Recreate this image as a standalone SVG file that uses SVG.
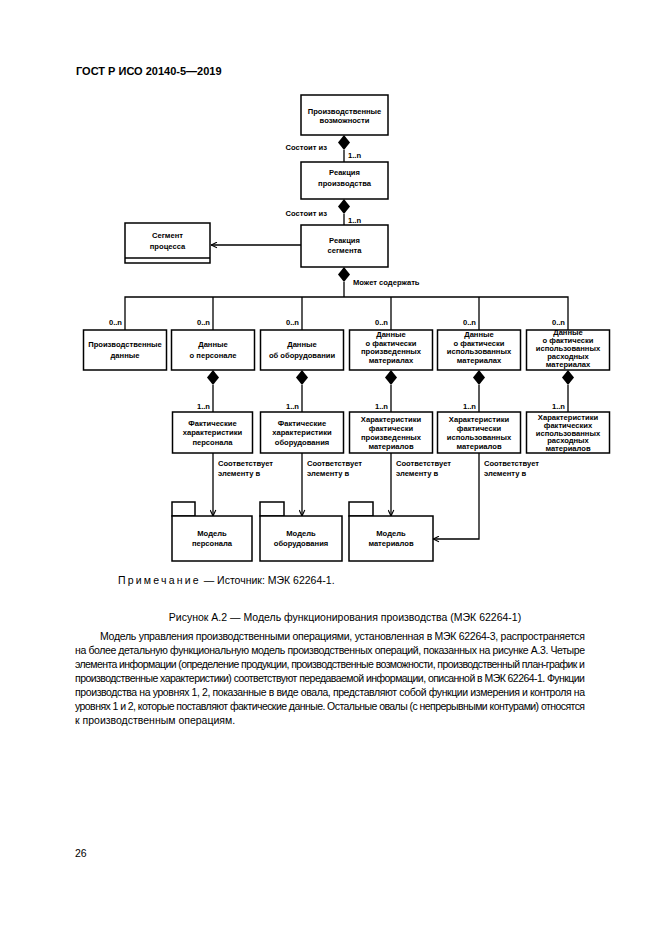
<svg xmlns="http://www.w3.org/2000/svg" width="661" height="935" viewBox="0 0 661 935">
<style>
.bx{fill:#fff;stroke:#000;stroke-width:1.5}
.ln{fill:none;stroke:#000;stroke-width:1.3}
.dm{fill:#000;stroke:none}
.t{font-family:"Liberation Sans",Arial,sans-serif;font-size:7.6px;font-weight:bold;fill:#000}
.c{text-anchor:middle}
.r{text-anchor:end}
.p{font-family:"Liberation Sans",Arial,sans-serif;font-size:10.5px;fill:#000}
</style>
<defs>
<marker id="op" viewBox="0 0 10 10" refX="9.5" refY="5" markerWidth="7" markerHeight="7" markerUnits="userSpaceOnUse" orient="auto">
<path d="M1,1 L9.5,5 L1,9" fill="none" stroke="#000" stroke-width="1.6"/>
</marker>
</defs>
<rect width="661" height="935" fill="#fff"/>
<text x="76" y="75" font-family="Liberation Sans,Arial,sans-serif" font-size="11" font-weight="bold">ГОСТ Р ИСО 20140-5—2019</text>

<g id="connectors">
<line class="ln" x1="344" y1="150" x2="344" y2="162"/>
<line class="ln" x1="344" y1="214" x2="344" y2="225"/>
<line class="ln" x1="344" y1="282" x2="344" y2="297"/>
<line class="ln" x1="301" y1="245" x2="211" y2="245" marker-end="url(#op)"/>
<polyline class="ln" points="125,330 125,297 568,297 568,330"/>
<line class="ln" x1="213" y1="297" x2="213" y2="330"/>
<line class="ln" x1="302" y1="297" x2="302" y2="330"/>
<line class="ln" x1="391" y1="297" x2="391" y2="330"/>
<line class="ln" x1="479" y1="297" x2="479" y2="330"/>
<line class="ln" x1="213" y1="385" x2="213" y2="412"/>
<line class="ln" x1="302" y1="385" x2="302" y2="412"/>
<line class="ln" x1="391" y1="385" x2="391" y2="412"/>
<line class="ln" x1="479" y1="385" x2="479" y2="412"/>
<line class="ln" x1="568" y1="385" x2="568" y2="412"/>
<line class="ln" x1="213" y1="453" x2="213" y2="516" marker-end="url(#op)"/>
<line class="ln" x1="302" y1="453" x2="302" y2="516" marker-end="url(#op)"/>
<line class="ln" x1="391" y1="453" x2="391" y2="516" marker-end="url(#op)"/>
<polyline class="ln" points="479,453 479,539 433,539" marker-end="url(#op)"/>
<path class="dm" d="M344,135 L350,142.5 L344,150 L338,142.5 Z"/>
<path class="dm" d="M344,199 L350,206.5 L344,214 L338,206.5 Z"/>
<path class="dm" d="M344,267 L350,274.5 L344,282 L338,274.5 Z"/>
<path class="dm" d="M213,370 L219,377.5 L213,385 L207,377.5 Z"/>
<path class="dm" d="M302,370 L308,377.5 L302,385 L296,377.5 Z"/>
<path class="dm" d="M391,370 L397,377.5 L391,385 L385,377.5 Z"/>
<path class="dm" d="M479,370 L485,377.5 L479,385 L473,377.5 Z"/>
<path class="dm" d="M568,370 L574,377.5 L568,385 L562,377.5 Z"/>
<text class="t r" x="327" y="150">Состоит из</text>
<text class="t" x="348" y="158">1..n</text>
<text class="t r" x="327" y="216">Состоит из</text>
<text class="t" x="348" y="223">1..n</text>
<text class="t" x="353" y="285">Может содержать</text>
<text class="t r" x="122" y="325">0..n</text>
<text class="t r" x="210" y="325">0..n</text>
<text class="t r" x="299" y="325">0..n</text>
<text class="t r" x="388" y="325">0..n</text>
<text class="t r" x="476" y="325">0..n</text>
<text class="t r" x="565" y="325">0..n</text>
<text class="t r" x="210" y="409">1..n</text>
<text class="t r" x="299" y="409">1..n</text>
<text class="t r" x="388" y="409">1..n</text>
<text class="t r" x="476" y="409">1..n</text>
<text class="t r" x="565" y="409">1..n</text>
<text class="t" x="218" y="466">Соответствует</text>
<text class="t" x="218" y="476">элементу в</text>
<text class="t" x="307" y="466">Соответствует</text>
<text class="t" x="307" y="476">элементу в</text>
<text class="t" x="396" y="466">Соответствует</text>
<text class="t" x="396" y="476">элементу в</text>
<text class="t" x="484" y="466">Соответствует</text>
<text class="t" x="484" y="476">элементу в</text>
</g>

<g id="n-capability">
<rect class="bx" x="301" y="95" width="87" height="40"/>
<text class="t c" x="344.5" y="113.5">Производственные</text>
<text class="t c" x="344.5" y="123">возможности</text>
</g>
<g id="n-prodresponse">
<rect class="bx" x="301" y="162" width="87" height="37"/>
<text class="t c" x="344.5" y="175">Реакция</text>
<text class="t c" x="344.5" y="185.5">производства</text>
</g>
<g id="n-segresponse">
<rect class="bx" x="301" y="225" width="87" height="42"/>
<text class="t c" x="344.5" y="243">Реакция</text>
<text class="t c" x="344.5" y="253">сегмента</text>
</g>
<g id="n-procsegment">
<rect class="bx" x="125" y="223" width="85" height="40"/>
<line class="ln" x1="125" y1="258" x2="210" y2="258"/>
<text class="t c" x="167.5" y="237.5">Сегмент</text>
<text class="t c" x="167.5" y="249">процесса</text>
</g>

<g id="n-proddata">
<rect class="bx" x="83.5" y="330" width="83" height="40"/>
<text class="t c" x="125" y="347">Производственные</text>
<text class="t c" x="125" y="357.5">данные</text>
</g>
<g id="n-persdata">
<rect class="bx" x="171.5" y="330" width="83" height="40"/>
<text class="t c" x="213" y="347">Данные</text>
<text class="t c" x="213" y="357.5">о персонале</text>
</g>
<g id="n-equipdata">
<rect class="bx" x="260.5" y="330" width="83" height="40"/>
<text class="t c" x="302" y="347">Данные</text>
<text class="t c" x="302" y="357.5">об оборудовании</text>
</g>
<g id="n-matprod">
<rect class="bx" x="349.5" y="330" width="83" height="40"/>
<text class="t c" x="391" y="337">Данные</text>
<text class="t c" x="391" y="345.5">о фактически</text>
<text class="t c" x="391" y="354">произведенных</text>
<text class="t c" x="391" y="362.5">материалах</text>
</g>
<g id="n-matcons">
<rect class="bx" x="437.5" y="330" width="83" height="40"/>
<text class="t c" x="479" y="337">Данные</text>
<text class="t c" x="479" y="345.5">о фактически</text>
<text class="t c" x="479" y="354">использованных</text>
<text class="t c" x="479" y="362.5">материалах</text>
</g>
<g id="n-consumables">
<rect class="bx" x="526.5" y="330" width="83" height="40"/>
<text class="t c" x="568" y="334.5">Данные</text>
<text class="t c" x="568" y="342.5">о фактически</text>
<text class="t c" x="568" y="350.5">использованных</text>
<text class="t c" x="568" y="358.5">расходных</text>
<text class="t c" x="568" y="366.5">материалах</text>
</g>

<g id="n-persactual">
<rect class="bx" x="172.5" y="412" width="80" height="41"/>
<text class="t c" x="212.5" y="425.5">Фактические</text>
<text class="t c" x="212.5" y="435">характеристики</text>
<text class="t c" x="212.5" y="444.5">персонала</text>
</g>
<g id="n-equipactual">
<rect class="bx" x="260.5" y="412" width="83" height="41"/>
<text class="t c" x="302" y="425.5">Фактические</text>
<text class="t c" x="302" y="435">характеристики</text>
<text class="t c" x="302" y="444.5">оборудования</text>
</g>
<g id="n-matprodactual">
<rect class="bx" x="349.5" y="412" width="83" height="41"/>
<text class="t c" x="391" y="421.5">Характеристики</text>
<text class="t c" x="391" y="430.5">фактически</text>
<text class="t c" x="391" y="439.5">произведенных</text>
<text class="t c" x="391" y="449">материалов</text>
</g>
<g id="n-matconsactual">
<rect class="bx" x="437.5" y="412" width="83" height="41"/>
<text class="t c" x="479" y="421.5">Характеристики</text>
<text class="t c" x="479" y="430.5">фактически</text>
<text class="t c" x="479" y="439.5">использованных</text>
<text class="t c" x="479" y="449">материалов</text>
</g>
<g id="n-consactual">
<rect class="bx" x="526.5" y="412" width="83" height="41"/>
<text class="t c" x="568" y="420">Характеристики</text>
<text class="t c" x="568" y="427.8">фактических</text>
<text class="t c" x="568" y="435.6">использованных</text>
<text class="t c" x="568" y="443.4">расходных</text>
<text class="t c" x="568" y="451">материалов</text>
</g>

<g id="n-persmodel">
<rect class="bx" x="172" y="502" width="23" height="14"/>
<rect class="bx" x="172" y="516" width="80" height="45"/>
<text class="t c" x="212" y="535.5">Модель</text>
<text class="t c" x="212" y="545.5">персонала</text>
</g>
<g id="n-equipmodel">
<rect class="bx" x="260" y="502" width="24" height="14"/>
<rect class="bx" x="260" y="516" width="82" height="45"/>
<text class="t c" x="301" y="535.5">Модель</text>
<text class="t c" x="301" y="545.5">оборудования</text>
</g>
<g id="n-matmodel">
<rect class="bx" x="349" y="502" width="24" height="14"/>
<rect class="bx" x="349" y="516" width="84" height="45"/>
<text class="t c" x="391" y="535.5">Модель</text>
<text class="t c" x="391" y="545.5">материалов</text>
</g>

<text class="p" x="118" y="584" font-size="9.5" fill="#222"><tspan letter-spacing="2.2">Примечание</tspan> — Источник: МЭК 62264-1.</text>
<text class="p c" x="345" y="621" font-size="10">Рисунок А.2 — Модель функционирования производства (МЭК 62264-1)</text>
<text class="p" x="100" y="640" textLength="485" lengthAdjust="spacing">Модель управления производственными операциями, установленная в МЭК 62264-3, распространяется</text>
<text class="p" x="75" y="654" textLength="510" lengthAdjust="spacing">на более детальную функциональную модель производственных операций, показанных на рисунке А.3. Четыре</text>
<text class="p" x="75" y="668" textLength="510" lengthAdjust="spacing">элемента информации (определение продукции, производственные возможности, производственный план-график и</text>
<text class="p" x="75" y="682" textLength="510" lengthAdjust="spacing">производственные характеристики) соответствуют передаваемой информации, описанной в МЭК 62264-1. Функции</text>
<text class="p" x="75" y="696" textLength="510" lengthAdjust="spacing">производства на уровнях 1, 2, показанные в виде овала, представляют собой функции измерения и контроля на</text>
<text class="p" x="75" y="710" textLength="510" lengthAdjust="spacing">уровнях 1 и 2, которые поставляют фактические данные. Остальные овалы (с непрерывными контурами) относятся</text>
<text class="p" x="75" y="724">к производственным операциям.</text>
<text class="p" x="75" y="857">26</text>
</svg>
